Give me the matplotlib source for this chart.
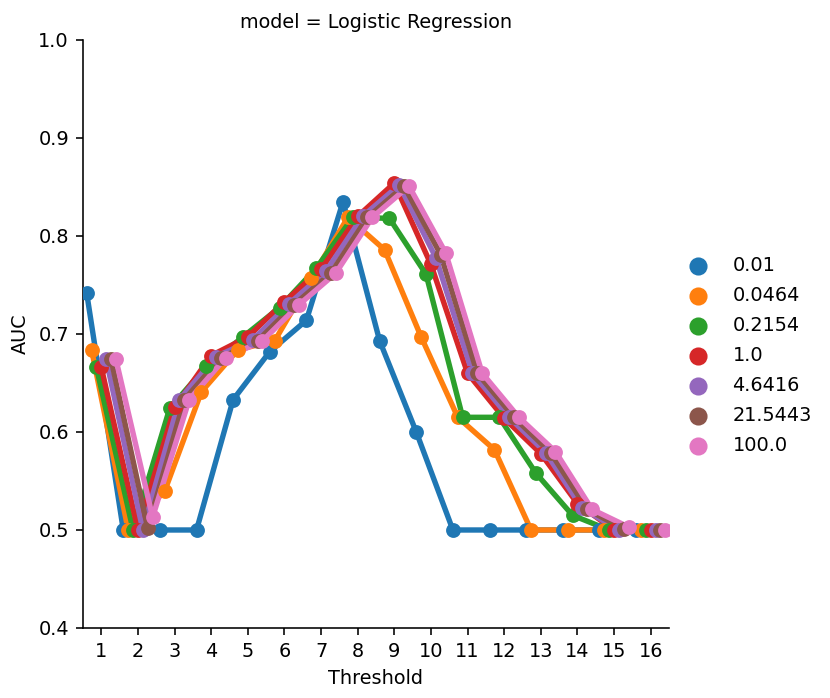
import numpy as np
import matplotlib
matplotlib.use("Agg")
import matplotlib.pyplot as plt

# -------------------------------------------------------------
# Data
# -------------------------------------------------------------
thresholds = [str(t) for t in range(1, 17)]
hue_levels = ["0.01", "0.0464", "0.2154", "1.0", "4.6416", "21.5443", "100.0"]
colors = ["#1f77b4", "#ff7f0e", "#2ca02c", "#d62728", "#9467bd", "#8c564b", "#e377c2"]

auc_001 = [0.742, 0.500, 0.500, 0.500, 0.633, 0.682, 0.714, 0.835,
           0.693, 0.600, 0.500, 0.500, 0.500, 0.500, 0.500, 0.500]
auc_0464 = [0.684, 0.500, 0.540, 0.641, 0.684, 0.693, 0.757, 0.819,
            0.786, 0.697, 0.615, 0.582, 0.500, 0.500, 0.500, 0.500]
auc_2154 = [0.666, 0.500, 0.624, 0.667, 0.697, 0.727, 0.767, 0.819,
            0.818, 0.761, 0.615, 0.615, 0.558, 0.515, 0.500, 0.500]
auc_1 = [0.666, 0.500, 0.625, 0.678, 0.697, 0.733, 0.766, 0.820,
         0.854, 0.771, 0.660, 0.614, 0.578, 0.527, 0.500, 0.500]
auc_46416 = [0.674, 0.500, 0.633, 0.677, 0.694, 0.731, 0.764, 0.820,
             0.852, 0.778, 0.660, 0.615, 0.579, 0.522, 0.500, 0.500]
auc_215443 = [0.674, 0.502, 0.633, 0.676, 0.693, 0.730, 0.762, 0.819,
              0.851, 0.781, 0.660, 0.615, 0.579, 0.521, 0.501, 0.500]
auc_100 = [0.674, 0.513, 0.633, 0.676, 0.693, 0.730, 0.762, 0.819,
           0.851, 0.783, 0.660, 0.615, 0.580, 0.521, 0.503, 0.500]

series = [auc_001, auc_0464, auc_2154, auc_1, auc_46416, auc_215443, auc_100]

# -------------------------------------------------------------
# Plot
# -------------------------------------------------------------
plt.rcParams["font.size"] = 9.6

fig = plt.figure(figsize=(830 / 144, 698 / 144), dpi=144)
ax = fig.add_axes([0.1, 0.1003, 0.706, 0.8424])

x = np.arange(len(thresholds))
offsets = np.linspace(-0.4, 0.4, len(hue_levels))
lw = 1.5 * 1.8
ms = 55

for vals, col, off, lab in zip(series, colors, offsets, hue_levels):
    ax.plot(x + off, vals, color=col, lw=lw, solid_capstyle="round")
    ax.scatter(x + off, vals, color=col, s=ms, zorder=100, linewidths=0)
    ax.scatter([], [], color=col, s=65, label=lab)

ax.set_xticks(x)
ax.set_xticklabels(thresholds)
ax.set_xlim(-0.5, len(thresholds) - 0.5)
ax.set_ylim(0.4, 1.0)
ax.set_yticks(np.arange(0.4, 1.01, 0.1))
ax.set_xlabel("Threshold")
ax.set_ylabel("AUC")
ax.set_title("model = Logistic Regression", fontsize=9.6)
ax.spines["top"].set_visible(False)
ax.spines["right"].set_visible(False)

fig.legend(loc="center left", bbox_to_anchor=(0.797, 0.4907), frameon=False,
           scatterpoints=1, handletextpad=0.8, labelspacing=0.575)

fig.savefig("out.png", dpi=144)
